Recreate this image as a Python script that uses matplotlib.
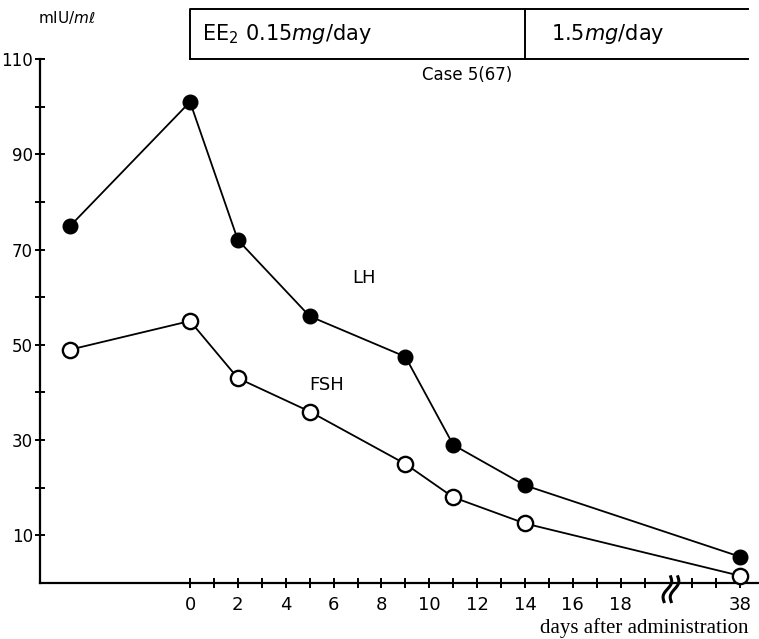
import matplotlib.pyplot as plt
import numpy as np

# days after start of administration; day 38 sits after the axis break
days = [-5, 0, 2, 5, 9, 11, 14, 38]
lh = [75, 101, 72, 56, 47.5, 29, 20.5, 5.5]
fsh = [49, 55, 43, 36, 25, 18, 12.5, 1.5]

y_ticks = list(range(10, 111, 10))
y_labels = ["10", "", "30", "", "50", "", "70", "", "90", "", "110"]
x_ticks = list(range(0, 20)) + [36, 37, 38]
x_labels = [str(d) if d % 2 == 0 else "" for d in range(0, 20)] + ["", "", "38"]

BREAK_SHIFT = 15  # days 36..38 drawn right after day 19


def pos(d):
    return d - BREAK_SHIFT if d > 20 else d


sans = ["Liberation Sans Narrow", "DejaVu Sans"]
plt.rcParams["font.family"] = sans

fig = plt.figure(figsize=(7.59, 6.39), dpi=100)
ax = fig.add_axes([40 / 759, 1 - 583 / 639, 719 / 759, 524 / 639])
ax.set_xlim(-6.27, 23.78)
ax.set_ylim(0, 110)

for s in ["top", "right"]:
    ax.spines[s].set_visible(False)
for s in ["left", "bottom"]:
    ax.spines[s].set_linewidth(1.6)

xp = [pos(d) for d in days]
ax.plot(xp, lh, "-o", color="black", lw=1.3, ms=10.5,
        mfc="black", mec="black", clip_on=False, zorder=3)
ax.plot(xp, fsh, "-o", color="black", lw=1.3, ms=11,
        mfc="white", mec="black", mew=1.7, clip_on=False, zorder=3)

ax.set_yticks(y_ticks, labels=y_labels)
ax.set_xticks([pos(d) for d in x_ticks], labels=x_labels)
ax.tick_params(direction="inout", length=7, width=1.4, labelsize=13,
               colors="black")
ax.tick_params(axis="x", pad=6)
ax.tick_params(axis="y", pad=1.5, labelsize=12)

# axis break squiggles
t = np.linspace(-1, 1, 50)
for off in (19.95, 20.25):
    ax.plot(off + 0.1 * np.sin(t * np.pi) + 0.14 * t, -1.3 + 2.6 * t,
            color="black", lw=2.2, clip_on=False, zorder=4)

ax.text(6.8, 63, "LH", fontsize=13)
ax.text(5.0, 40.5, "FSH", fontsize=13)
ax.text(9.7, 105.5, "Case 5(67)", fontsize=12)

# dosage box above the plot
top = 120.5
ax.plot([0, 0, 23.3], [110, top, top], color="black", lw=1.4, clip_on=False)
ax.plot([0, 23.3], [110, 110], color="black", lw=1.4, clip_on=False)
ax.plot([14, 14], [110, top], color="black", lw=1.4, clip_on=False)
ax.text(0.5, 115.3, r"EE$_2$ 0.15$\it{mg}$/day", fontsize=15, va="center")
ax.text(15.1, 115.3, r"1.5$\it{mg}$/day", fontsize=15, va="center")

fig.text(38 / 759, 1 - 18 / 639, r"mIU/$\it{m\ell}$", fontsize=11,
         va="center")
fig.text(748 / 759, 1 - 628 / 639, "days after administration",
         fontsize=15, family=["Liberation Serif", "DejaVu Serif"],
         ha="right", va="center")

fig.savefig("out.png", dpi=100)
